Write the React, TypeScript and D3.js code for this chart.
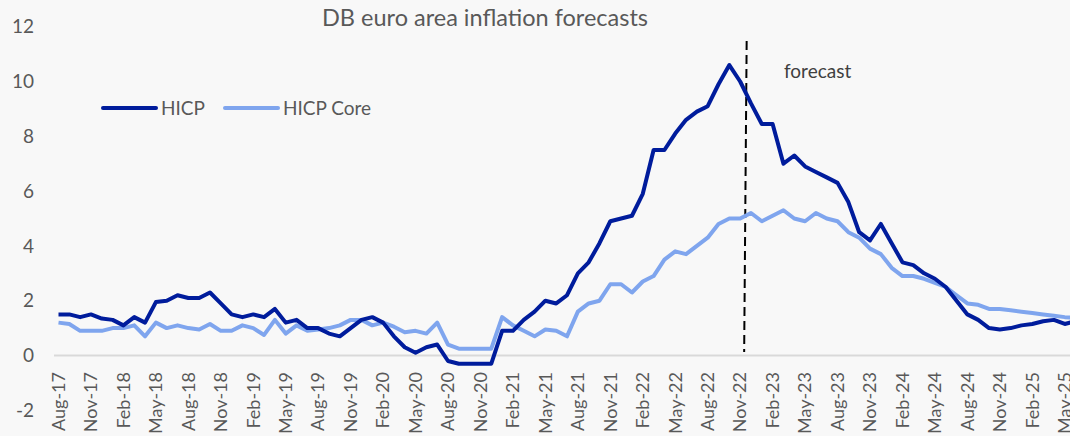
import React from "react";
import * as d3 from "d3";

const START = new Date(2017, 7, 1);
const months: string[] = d3.timeMonth
  .range(START, new Date(2025, 6, 1))
  .map((d) => d3.timeFormat("%b-%y")(d));

const hicp: number[] = [
  1.5, 1.5, 1.4, 1.5, 1.35, 1.3, 1.1, 1.4, 1.2, 1.95, 2.0, 2.2, 2.1, 2.1, 2.3, 1.9,
  1.5, 1.4, 1.5, 1.4, 1.7, 1.2, 1.3, 1.0, 1.0, 0.8, 0.7, 1.0, 1.3, 1.4, 1.2, 0.7,
  0.3, 0.1, 0.3, 0.4, -0.2, -0.3, -0.3, -0.3, -0.3, 0.9, 0.9, 1.3, 1.6, 2.0, 1.9, 2.2,
  3.0, 3.4, 4.1, 4.9, 5.0, 5.1, 5.9, 7.5, 7.5, 8.1, 8.6, 8.9, 9.1, 9.9, 10.6, 10.0,
  9.2, 8.45, 8.45, 7.0, 7.3, 6.9, 6.7, 6.5, 6.3, 5.6, 4.5, 4.2, 4.8, 4.1, 3.4, 3.3,
  3.0, 2.8, 2.5, 2.0, 1.5, 1.3, 1.0, 0.95, 1.0, 1.1, 1.15, 1.25, 1.3, 1.15, 1.25,
];

const hicpCore: number[] = [
  1.2, 1.15, 0.9, 0.9, 0.9, 1.0, 1.0, 1.1, 0.7, 1.2, 1.0, 1.1, 1.0, 0.95, 1.15, 0.9,
  0.9, 1.1, 1.0, 0.75, 1.3, 0.8, 1.1, 0.9, 0.95, 1.0, 1.1, 1.3, 1.3, 1.1, 1.2, 1.05,
  0.85, 0.9, 0.8, 1.2, 0.4, 0.25, 0.25, 0.25, 0.25, 1.4, 1.1, 0.9, 0.7, 0.95, 0.9, 0.7,
  1.6, 1.9, 2.0, 2.6, 2.6, 2.3, 2.7, 2.9, 3.5, 3.8, 3.7, 4.0, 4.3, 4.8, 5.0, 5.0,
  5.2, 4.9, 5.1, 5.3, 5.0, 4.9, 5.2, 5.0, 4.9, 4.5, 4.3, 3.9, 3.7, 3.2, 2.9, 2.9,
  2.8, 2.65, 2.5, 2.2, 1.9, 1.85, 1.7, 1.7, 1.65, 1.6, 1.55, 1.5, 1.45, 1.4, 1.37,
];

const yTicks: number[] = [-2, 0, 2, 4, 6, 8, 10, 12];
const forecastStart = "Nov-22";

const W = 1070;
const H = 436;
const FONT = "Lato, 'Open Sans', sans-serif";
const DARK = "#001C9C";
const LIGHT = "#7FA5EE";
const TEXT = "#595959";

export default function App() {
  const x = d3
    .scalePoint<string>()
    .domain(months)
    .range([58.5, 58.5 + (months.length - 1) * 10.82]);
  const y = d3.scaleLinear().domain([-2, 12]).range([410.3, 26.7]);

  const line = d3
    .line<number>()
    .x((_, i) => x(months[i]) as number)
    .y((d) => y(d));

  const tickLabels = months.filter((_, i) => i % 3 === 0);
  const fx = (x(forecastStart) as number) + 4;

  return (
    <svg
      width={W}
      height={H}
      style={{ position: "absolute", left: 0, top: 0, background: "#f8f8f8" }}
      fontFamily={FONT}
    >
      <rect x={0} y={0} width={W} height={H} fill="#f8f8f8" />
      <text x={485} y={26} textAnchor="middle" fontSize={23.5} fill={TEXT}>
        DB euro area inflation forecasts
      </text>
      {yTicks.map((t) => (
        <text key={t} x={34} y={y(t)} dy="0.35em" textAnchor="end" fontSize={19} fill={TEXT}>
          {t}
        </text>
      ))}
      <line x1={54} x2={W} y1={y(0)} y2={y(0)} stroke="#d9d9d9" strokeWidth={2} />
      {tickLabels.map((m) => (
        <text
          key={m}
          transform={`translate(${x(m)},${372}) rotate(-90)`}
          dy="0.35em"
          textAnchor="end"
          fontSize={18}
          fill={TEXT}
        >
          {m}
        </text>
      ))}
      <line
        x1={fx + 2.5}
        y1={41}
        x2={fx}
        y2={352}
        stroke="#000"
        strokeWidth={2}
        strokeDasharray="9,5"
      />
      <text x={784} y={78} fontSize={19} fill="#404040">
        forecast
      </text>
      <path d={line(hicpCore) ?? ""} fill="none" stroke={LIGHT} strokeWidth={4} strokeLinejoin="round" />
      <path d={line(hicp) ?? ""} fill="none" stroke={DARK} strokeWidth={4} strokeLinejoin="round" />
      <line x1={103} x2={156} y1={108} y2={108} stroke={DARK} strokeWidth={4} strokeLinecap="round" />
      <text x={161} y={108} dy="0.35em" fontSize={19} fill={TEXT}>
        HICP
      </text>
      <line x1={225} x2={278} y1={108} y2={108} stroke={LIGHT} strokeWidth={4} strokeLinecap="round" />
      <text x={283} y={108} dy="0.35em" fontSize={19} fill={TEXT}>
        HICP Core
      </text>
    </svg>
  );
}
